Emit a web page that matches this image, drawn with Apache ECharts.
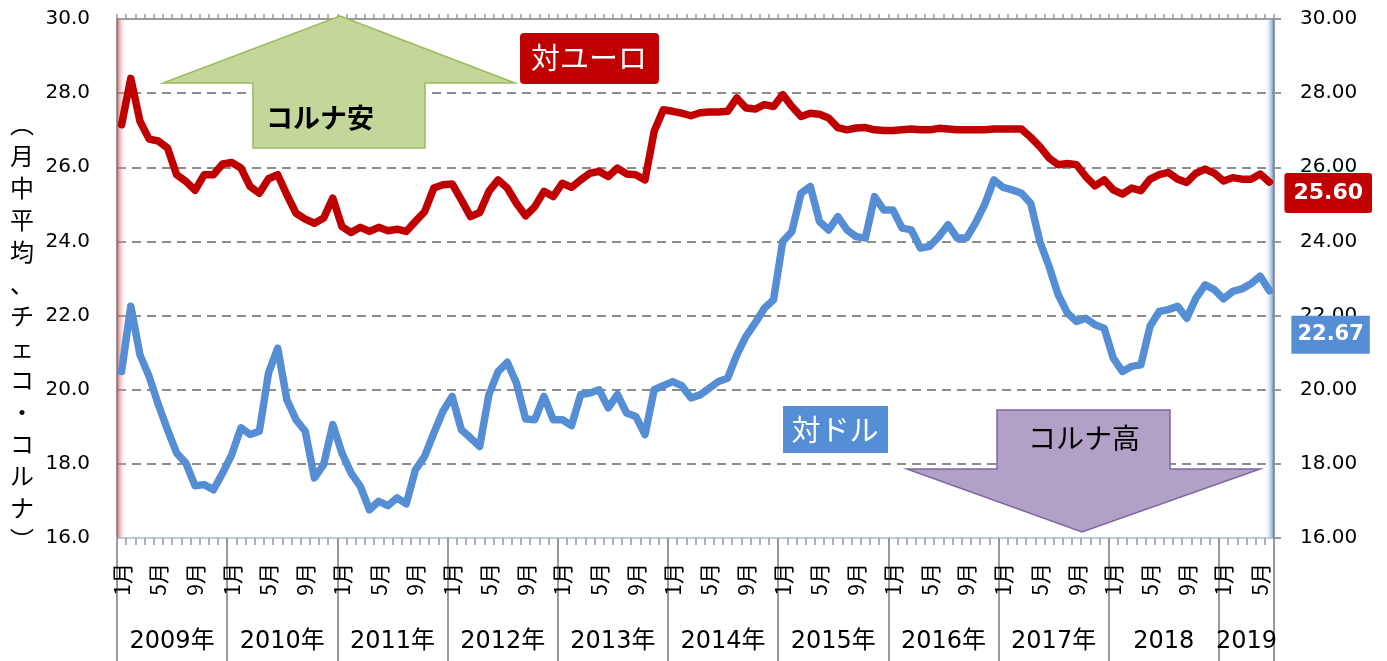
<!DOCTYPE html>
<html><head><meta charset="utf-8">
<script src="https://cdn.jsdelivr.net/npm/echarts@6/dist/echarts.min.js"></script>
<style>html,body{margin:0;padding:0;background:#fff}#c{width:1387px;height:661px}</style>
</head><body><div id="c"></div>
<script>
// ---- data ----
const years = ['2009年','2010年','2011年','2012年','2013年','2014年','2015年','2016年','2017年','2018','2019'];
const monthTickLabels = {1:'1月', 5:'5月', 9:'9月'};
const startYear = 2009;
const monthCount = 126; // Jan 2009 .. Jun 2019
const categories = [];
for (let i = 0; i < monthCount; i++) {
  categories.push((startYear + Math.floor(i / 12)) + '/' + (i % 12 + 1));
}
const euro = [
  27.15,28.40,27.24,26.76,26.71,26.52,25.80,25.62,25.38,25.80,25.80,26.09,
  26.13,25.98,25.48,25.30,25.69,25.80,25.26,24.76,24.60,24.49,24.63,25.17,
  24.40,24.24,24.38,24.27,24.38,24.29,24.33,24.27,24.54,24.80,25.44,25.53,
  25.55,25.12,24.67,24.78,25.35,25.66,25.44,25.03,24.69,24.94,25.35,25.21,
  25.57,25.46,25.66,25.84,25.89,25.75,25.98,25.82,25.80,25.66,26.97,27.55,
  27.51,27.46,27.39,27.47,27.49,27.49,27.51,27.87,27.60,27.57,27.69,27.64,
  27.96,27.64,27.37,27.46,27.43,27.33,27.07,27.01,27.06,27.07,27.01,26.99,
  26.99,27.01,27.03,27.01,27.01,27.05,27.03,27.01,27.01,27.01,27.01,27.03,
  27.03,27.03,27.03,26.81,26.56,26.25,26.07,26.10,26.07,25.75,25.50,25.66,
  25.39,25.28,25.44,25.37,25.68,25.80,25.86,25.68,25.59,25.84,25.95,25.84,
  25.63,25.72,25.68,25.68,25.82,25.60
];
const usd = [
  20.49,22.25,20.94,20.36,19.60,18.92,18.29,18.02,17.41,17.44,17.30,17.75,
  18.25,18.97,18.79,18.88,20.45,21.12,19.73,19.19,18.88,17.62,17.98,19.06,
  18.29,17.75,17.39,16.76,16.99,16.87,17.08,16.92,17.84,18.20,18.83,19.42,
  19.82,18.92,18.70,18.47,19.87,20.49,20.74,20.18,19.21,19.19,19.82,19.19,
  19.19,19.03,19.87,19.91,20.00,19.51,19.87,19.37,19.28,18.79,20.00,20.11,
  20.22,20.11,19.78,19.86,20.04,20.22,20.31,20.94,21.44,21.80,22.20,22.43,
  24.00,24.27,25.30,25.48,24.54,24.31,24.67,24.31,24.13,24.09,25.21,24.85,
  24.85,24.36,24.31,23.82,23.87,24.13,24.45,24.09,24.09,24.50,25.00,25.66,
  25.46,25.39,25.30,25.03,24.00,23.33,22.56,22.07,21.84,21.93,21.75,21.66,
  20.85,20.49,20.63,20.67,21.71,22.11,22.16,22.25,21.93,22.47,22.83,22.70,
  22.45,22.65,22.72,22.86,23.06,22.67
];
const yMin = 16, yMax = 30, yStep = 2;
const yNameChars = ['︵','月','中','平','均','、','チ','ェ','コ','・','コ','ル','ナ','︶'];

// ---- chart ----
const NUM_FONT = 'DejaVu Sans';
const JP_FONT = 'Noto Sans CJK JP';
const chart = echarts.init(document.getElementById('c'));

function hGrad(a, b) {
  return {type:'linear', x:0, y:0, x2:1, y2:0, colorStops:[{offset:0, color:a},{offset:1, color:b}]};
}
const bandData = categories.map((c, i) => {
  if (i === 0) return {value: yMax, itemStyle: {color: hGrad('rgba(200,70,70,0.8)', 'rgba(255,255,255,0)')}};
  if (i === monthCount - 1) return {value: yMax, itemStyle: {color: hGrad('rgba(255,255,255,0)', 'rgba(85,135,205,0.95)')}};
  return '-';
});
function yearLabelAt(v) {
  const yi = Math.floor(v / 12);
  if (yi >= years.length) return '';
  const ys = yi * 12;
  const len = Math.min(12, monthCount - ys);
  return v === ys + len / 2 ? years[yi] : '';
}

const option = {
  animation: false,
  backgroundColor: '#fff',
  grid: {left: 117, right: 113, top: 19, bottom: 123, outerBoundsMode: 'none'},
  xAxis: [
    {type:'category', data:categories, position:'bottom', boundaryGap:true,
     axisLine:{onZero:false, lineStyle:{color:'#b8cce4', width:2}},
     axisTick:{show:true, interval:0, length:7, lineStyle:{color:'#999', width:1.5}},
     axisLabel:{interval:0, rotate:90, margin:25, fontSize:21, color:'#000', fontFamily:JP_FONT,
       formatter:(v, i) => monthTickLabels[i % 12 + 1] || ''},
     splitLine:{show:false}},
    {type:'category', data:categories, position:'bottom', boundaryGap:true,
     axisLine:{show:false, onZero:false},
     axisTick:{show:true, interval:(i) => i % 12 === 0, length:123, lineStyle:{color:'#999', width:2}},
     axisLabel:{show:false}, splitLine:{show:false}},
    {type:'value', min:0, max:monthCount, interval:3, position:'bottom',
     axisLine:{show:false, onZero:false}, axisTick:{show:false}, splitLine:{show:false},
     axisLabel:{margin:92, fontSize:24, color:'#000', fontFamily:NUM_FONT + ', ' + JP_FONT, formatter: yearLabelAt}},
    {type:'category', data:categories, position:'top', boundaryGap:true,
     axisLine:{onZero:false, lineStyle:{color:'#999', width:2}},
     axisTick:{show:true, interval:0, length:5, lineStyle:{color:'#999', width:1.5}},
     axisLabel:{show:false}, splitLine:{show:false}}
  ],
  yAxis: [
    {type:'value', min:yMin, max:yMax, interval:yStep, startValue:yMin, position:'left',
     axisLine:{show:true, lineStyle:{color:'#999', width:2}}, axisTick:{show:false},
     axisLabel:{formatter:v => v.toFixed(1), margin:27, fontSize:20, color:'#000', fontFamily:NUM_FONT},
     splitLine:{show:true, lineStyle:{color:'#8c8c8c', width:2, type:[9,6]}}},
    {type:'value', min:yMin, max:yMax, interval:yStep, position:'right',
     axisLine:{show:true, lineStyle:{color:'#999', width:2}},
     axisTick:{show:true, length:7, lineStyle:{color:'#999', width:2}},
     axisLabel:{formatter:v => v.toFixed(2), margin:26, fontSize:20, color:'#000', fontFamily:NUM_FONT},
     splitLine:{show:false}}
  ],
  series: [
    {type:'bar', name:'band', data:bandData, barWidth:'100%', z:1, silent:true, clip:true,
     xAxisIndex:0, yAxisIndex:0},
    {type:'line', name:'対ユーロ', data:euro, xAxisIndex:0, yAxisIndex:0, symbol:'none', showSymbol:false, z:3,
     lineStyle:{color:'#c00000', width:7.5, cap:'round', join:'round'}, itemStyle:{color:'#c00000'},
     endLabel:{show:true, formatter:p => Number(p.value).toFixed(2), color:'#fff', backgroundColor:'#c00000',
       borderRadius:3, padding:[10,9,8,9], fontSize:22, fontWeight:'bold', fontFamily:NUM_FONT,
       distance:15, offset:[0,11]}},
    {type:'line', name:'対ドル', data:usd, xAxisIndex:0, yAxisIndex:0, symbol:'none', showSymbol:false, z:3,
     lineStyle:{color:'#558ed5', width:7.5, cap:'round', join:'round'}, itemStyle:{color:'#558ed5'},
     endLabel:{show:true, formatter:p => Number(p.value).toFixed(2), color:'#fff', backgroundColor:'#558ed5',
       padding:[9,6,8,6], fontSize:21, fontWeight:'bold', fontFamily:NUM_FONT,
       distance:22, offset:[0,44]}}
  ],
  graphic: [
    {type:'polygon', z:10, shape:{points:[[340,16],[515,83],[425,83],[425,148],[253,148],[253,83],[163,83]]},
     style:{fill:'#c4d79b', stroke:'#9bbb59', lineWidth:1.5}},
    {type:'text', z:11, x:320, y:118, style:{text:'コルナ安', fill:'#000', font:'bold 27px "Noto Sans CJK JP"',
     align:'center', verticalAlign:'middle', textAlign:'center', textVerticalAlign:'middle'}},
    {type:'polygon', z:10, shape:{points:[[997,410],[1170,410],[1170,469],[1260,469],[1082,532],[907,469],[997,469]]},
     style:{fill:'#b2a1c7', stroke:'#8064a2', lineWidth:1.5}},
    {type:'text', z:11, x:1084, y:438, style:{text:'コルナ高', fill:'#000', font:'28px "Noto Sans CJK JP"',
     align:'center', verticalAlign:'middle', textAlign:'center', textVerticalAlign:'middle'}},
    {type:'rect', z:10, shape:{x:520, y:33, width:139, height:51, r:4}, style:{fill:'#c00000'}},
    {type:'text', z:11, x:589, y:58, style:{text:'対ユーロ', fill:'#fff', font:'29px "Noto Sans CJK JP"',
     align:'center', verticalAlign:'middle', textAlign:'center', textVerticalAlign:'middle'}},
    {type:'rect', z:10, shape:{x:783, y:406, width:105, height:47}, style:{fill:'#558ed5'}},
    {type:'text', z:11, x:835, y:430, style:{text:'対ドル', fill:'#fff', font:'29px "Noto Sans CJK JP"',
     align:'center', verticalAlign:'middle', textAlign:'center', textVerticalAlign:'middle'}},
    {type:'text', z:11, x:22, y:108, style:{text:yNameChars.join('\n'), fill:'#000', font:'24px "Noto Sans CJK JP"',
     lineHeight:32, align:'center', verticalAlign:'top', textAlign:'center', textVerticalAlign:'top'}}
  ]
};
chart.setOption(option);
</script>
</body></html>
